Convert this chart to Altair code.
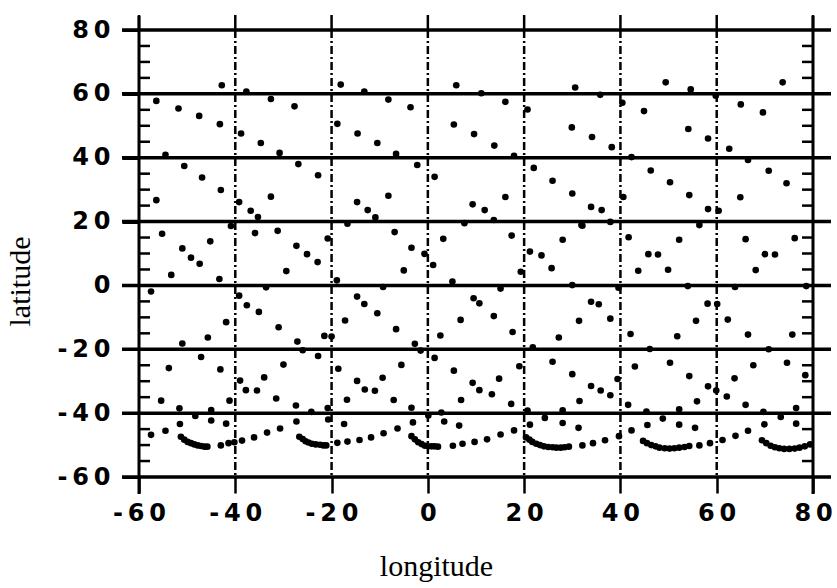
import altair as alt
import pandas as pd

# Sub-satellite points, longitude (deg) / latitude (deg), grouped by latitude band.
north_lon = [-42.8, -18.1, 5.9, 30.6, 49.4, 54.6, 73.7,
             -37.7, -13.2, 11.1, 35.8, 59.8]
north_lat = [62.7, 62.9, 62.7, 62.0, 63.6, 61.4, 63.6,
             60.7, 60.7, 60.2, 59.7, 59.4]

band40_lon = [-56.4, -51.8, -47.5, -43.2, -32.6, -27.7, -38.8, -34.7, -30.8, -26.9,
              -8.2, -3.6, -18.8, -14.6, -10.5, -6.6, -2.2, 1.4,
              16.1, 20.7, 5.4, 9.6, 13.8, 17.9,
              40.4, 44.9, 29.9, 34.1, 38.2, 42.3,
              65.0, 69.6, 54.1, 58.2, 62.6, 66.5]
band40_lat = [57.8, 55.4, 53.1, 50.5, 58.4, 56.1, 47.6, 44.6, 41.5, 38.0,
              58.2, 55.8, 50.6, 47.6, 44.6, 41.2, 37.7, 34.0,
              57.5, 55.1, 50.4, 47.4, 43.8, 40.6,
              57.2, 54.6, 49.5, 46.5, 43.3, 40.2,
              56.7, 54.2, 49.0, 46.0, 42.8, 39.3]

band20_lon = [-54.5, -50.6, -46.9, -43.0, -56.4, -39.2, -36.8, -35.3, -32.6,
              -22.8, -14.7, -12.5, -10.9, -8.2, -16.7,
              9.3, 11.8, 13.7, 16.1,
              22.0, 25.9, 30.0, 33.9, 36.1, 37.9, 40.6, 31.9,
              46.3, 50.3, 54.3, 58.2, 60.4, 64.9, 70.8, 74.5, 56.4]
band20_lat = [40.9, 37.4, 33.8, 29.9, 26.7, 26.1, 23.4, 21.4, 27.8,
              34.5, 26.1, 23.6, 21.3, 28.1, 19.3,
              25.4, 23.6, 20.5, 27.7,
              36.8, 32.8, 28.8, 24.6, 23.6, 19.9, 27.7, 18.9,
              36.0, 32.3, 28.3, 23.9, 23.4, 27.6, 35.9, 32.0, 18.9]

band0_lon = [-55.2, -51.0, -49.2, -47.4, -53.3, -45.2, -43.3, -40.9,
             -35.9, -31.2, -33.6, -29.4, -27.3, -25.1, -22.9, -20.8, -18.9,
             -6.9, -3.4, -0.7, 1.1, -5.0, -9.3, 3.2, 5.1, 7.6,
             17.4, 21.2, 23.6, 25.7, 19.3, 15.1, 28.0, 30.0, 32.1,
             41.7, 43.7, 39.6, 45.8, 47.8, 49.9, 52.2, 54.0,
             66.0, 68.1, 70.0, 72.1, 76.2, 63.8, 78.6]
band0_lat = [16.2, 11.6, 8.7, 6.8, 3.3, 13.8, 2.0, 18.6,
             16.4, 17.1, -0.6, 4.5, 12.4, 9.8, 7.3, 14.7, 1.6,
             16.7, 11.8, 9.9, 6.4, 4.7, -0.5, 14.6, 1.2, 19.5,
             15.6, 10.6, 9.4, 5.4, 4.3, -1.0, 14.3, 0.1, 18.7,
             15.1, 4.6, -0.7, 9.8, 9.7, 4.9, 14.3, -0.2,
             14.5, 4.8, 9.8, 9.7, 14.8, -0.5, -0.2]

bandm20_lon = [-57.5, -39.2, -37.6, -35.1, -31.0, -27.1, -26.0, -41.9, -45.7, -51.0,
               -14.7, -13.2, -10.5, -6.6, -2.7, -1.5, -17.2, -21.5, -20.0,
               6.8, 2.6, 1.4, 9.5, 10.7, 13.7, 17.6, 21.8,
               33.9, 35.5, 37.9, 42.1, 46.1, 31.4, 27.2,
               58.1, 60.1, 55.7, 51.8, 62.3, 66.5, 70.8, 75.7]
bandm20_lat = [-1.9, -3.2, -6.2, -8.3, -13.1, -17.6, -20.3, -11.5, -16.3, -18.2,
               -3.5, -5.8, -8.7, -13.7, -18.3, -20.4, -11.0, -15.8, -16.0,
               -10.8, -15.7, -22.7, -4.0, -5.6, -9.6, -14.6, -19.4,
               -5.1, -5.9, -10.4, -15.2, -19.9, -11.1, -16.3,
               -5.7, -5.8, -11.1, -15.9, -10.7, -15.4, -20.0, -15.4]

bandm40_lon = [-53.8, -47.1, -43.1, -30.0, -39.0, -37.8, -35.5, -34.0, -31.5, -41.2, -55.4,
               -51.6, -48.3, -45.0, -27.4, -22.8,
               -18.6, -14.7, -13.1, -11.0, -9.4, -16.8, -7.1, -5.5, 5.4, 6.9,
               -24.2, -20.8, -3.4, 0.1, 2.8,
               14.8, 19.0, 25.9, 30.0, 43.0, 9.3, 10.7, 13.3, 17.3,
               33.9, 35.9, 37.9, 39.4, 31.5, 41.6, 20.7, 24.3, 28.0,
               50.3, 67.6, 74.6, 78.4, 54.3, 63.7, 58.2, 59.9, 62.1, 55.9, 66.0, 76.5,
               45.4, 52.2, 69.7, 73.3]
bandm40_lat = [-25.9, -22.4, -26.3, -24.8, -29.8, -32.8, -32.9, -28.8, -35.4, -36.1, -36.1,
               -38.5, -40.9, -39.0, -37.6, -22.1,
               -26.1, -29.9, -32.6, -33.0, -28.9, -35.8, -35.9, -24.9, -26.7, -35.9,
               -39.6, -38.4, -38.3, -40.7, -39.8,
               -29.2, -25.3, -23.9, -27.8, -25.4, -30.5, -32.8, -34.1, -37.1,
               -31.5, -32.9, -34.4, -29.3, -36.2, -37.4, -39.2, -41.5, -39.1,
               -24.2, -25.0, -24.2, -28.1, -28.4, -29.1, -31.6, -32.9, -34.8, -36.3, -37.4, -38.4,
               -39.5, -38.8, -39.6, -41.2]

south_lon = [-45.0, -41.9, -20.7, -17.4, 3.4, 6.5, 28.0, 31.3, 52.2, 55.5, 48.8, 76.5]
south_lat = [-42.3, -43.3, -42.0, -43.4, -42.6, -43.9, -43.1, -44.6, -43.6, -44.6, -41.7, -43.3]

# Southern turning points: dense arcs followed by the rising track.
arc_lon = [-57.5, -54.5, -51.5,
           -51.3, -50.6, -49.9, -49.2, -48.5, -47.8, -47.1, -46.4, -45.8,
           -43.0, -41.4, -40.2, -38.6, -36.1, -33.4, -30.7, -27.3,
           -26.7, -26.0, -25.4, -24.8, -24.1, -23.3, -22.4, -21.7, -21.1,
           -18.8, -16.7, -14.2, -11.8, -9.2, -6.3, -3.1,
           -3.4, -2.7, -2.0, -1.3, -0.6, 0.1, 0.8, 1.4, 2.1,
           5.2, 7.2, 9.7, 12.3, 15.1, 17.9, 21.2,
           20.4, 21.1, 21.7, 22.5, 23.3, 24.1, 25.0, 25.9, 26.7, 27.6, 28.4, 29.3,
           32.1, 34.3, 36.8, 39.7, 42.3, 45.6,
           44.7, 45.5, 46.4, 47.3, 48.1, 49.2, 50.2, 51.2, 52.2, 53.3, 54.3,
           56.4, 58.6, 61.2, 63.9, 66.5, 69.9,
           69.4, 70.3, 71.2, 72.1, 73.0, 74.0, 75.1, 76.2, 77.2, 78.3, 79.4]
arc_lat = [-46.8, -45.5, -43.4,
           -47.4, -48.3, -49.0, -49.4, -49.8, -50.1, -50.3, -50.5, -50.5,
           -50.1, -49.4, -49.1, -48.6, -47.6, -46.1, -44.8, -42.6,
           -47.4, -48.1, -48.8, -49.2, -49.6, -49.8, -49.9, -50.1, -50.1,
           -49.3, -48.9, -48.4, -47.6, -46.3, -44.8, -42.9,
           -47.2, -48.2, -49.1, -49.7, -50.2, -50.4, -50.4, -50.4, -50.5,
           -50.2, -49.6, -49.0, -48.2, -46.7, -45.4, -43.6,
           -47.6, -48.3, -49.0, -49.6, -50.0, -50.4, -50.6, -50.7, -50.8, -50.8, -50.7, -50.5,
           -50.1, -49.4, -48.5, -47.2, -45.4, -43.7,
           -48.7, -49.4, -50.0, -50.4, -50.8, -51.0, -51.1, -51.0, -50.8, -50.6, -50.3,
           -50.1, -49.4, -48.4, -47.1, -45.5, -43.5,
           -48.5, -49.4, -50.2, -50.7, -51.0, -51.2, -51.2, -51.1, -50.8, -50.4, -49.8]

# Grid and tick positions
major_lat = [80, 60, 40, 20, 0, -20, -40, -60]
major_lon = [-60, -40, -20, 0, 20, 40, 60, 80]
inner_lon = [-40, -20, 0, 20, 40, 60]
edge_lon = [-60, 80]
minor_lat = [75, 70, 65, 55, 50, 45, 35, 30, 25, 15, 10, 5,
             -5, -10, -15, -25, -30, -35, -45, -50, -55]

W, H = 674, 447

all_lon = (north_lon + band40_lon + band20_lon + band0_lon + bandm20_lon
           + bandm40_lon + south_lon + arc_lon)
all_lat = (north_lat + band40_lat + band20_lat + band0_lat + bandm20_lat
           + bandm40_lat + south_lat + arc_lat)
points = pd.DataFrame({"lon": all_lon, "lat": all_lat})

x_scale = alt.Scale(domain=[-60, 80], nice=False, zero=False)
y_scale = alt.Scale(domain=[-60, 80], nice=False, zero=False)

spaced = "join(split(toString(datum.value), ''), '\u2009')"

x_axis = alt.Axis(
    values=major_lon, title="longitude", grid=False, domain=False,
    tickSize=16, tickWidth=2.5, tickColor="black",
    labelExpr=spaced, labelFont="DejaVu Sans", labelFontWeight="bold",
    labelFontSize=24, labelColor="black", labelPadding=8,
    labelFlush=False, labelOverlap=False,
    titleFont="Liberation Serif", titleFontSize=30, titleFontWeight="normal",
    titleColor="black", titleX=297, titleY=98, titleAlign="center",
    titleBaseline="alphabetic",
)
y_axis = alt.Axis(
    values=major_lat, title="latitude", grid=False, domain=False,
    tickSize=17, tickWidth=3, tickColor="black",
    labelExpr=spaced, labelFont="DejaVu Sans", labelFontWeight="bold",
    labelFontSize=24, labelColor="black", labelPadding=12,
    labelFlush=False, labelOverlap=False,
    titleFont="Liberation Serif", titleFontSize=30, titleFontWeight="normal",
    titleColor="black", titleX=-110, titleY=251, titleAngle=270,
    titleAlign="center", titleBaseline="alphabetic",
)

X = lambda: alt.X("lon:Q", scale=x_scale, axis=x_axis)
Y = lambda: alt.Y("lat:Q", scale=y_scale, axis=y_axis)

# solid latitude lines running past both frame edges
hlines = alt.Chart(pd.DataFrame({"lat": major_lat})).mark_rule(
    color="black", strokeWidth=3.5
).encode(y=Y(), x=alt.value(-17), x2=alt.value(W + 18))

# dash-dot meridians inside the frame
vlines = alt.Chart(pd.DataFrame({"lon": inner_lon})).mark_rule(
    color="black", strokeWidth=2.5, strokeDash=[8, 3, 2, 3]
).encode(x=X(), y=alt.value(0), y2=alt.value(H))

# short solid ticks above the top line
top_ticks = alt.Chart(pd.DataFrame({"lon": major_lon})).mark_rule(
    color="black", strokeWidth=2.5
).encode(x=X(), y=alt.value(-15), y2=alt.value(0))

# left and right frame edges
frame = alt.Chart(pd.DataFrame({"lon": edge_lon})).mark_rule(
    color="black", strokeWidth=3
).encode(x=X(), y=alt.value(-14), y2=alt.value(H + 17))

# minor ticks pointing inward on both edges
minor_left = alt.Chart(pd.DataFrame({"lat": minor_lat})).mark_rule(
    color="black", strokeWidth=2.5
).encode(y=Y(), x=alt.value(0), x2=alt.value(11))
minor_right = alt.Chart(pd.DataFrame({"lat": minor_lat})).mark_rule(
    color="black", strokeWidth=2.5
).encode(y=Y(), x=alt.value(W - 11), x2=alt.value(W))

dots = alt.Chart(points).mark_circle(size=44, color="black", opacity=1).encode(
    x=X(), y=Y()
)

chart = alt.layer(
    hlines, vlines, top_ticks, frame, minor_left, minor_right, dots
).properties(
    width=W, height=H,
    autosize="none",
    padding={"left": 139, "top": 30, "right": 24, "bottom": 111},
    background="white",
).configure_view(stroke=None)

chart.save("out.html", embed_options={"renderer": "svg", "actions": False})
